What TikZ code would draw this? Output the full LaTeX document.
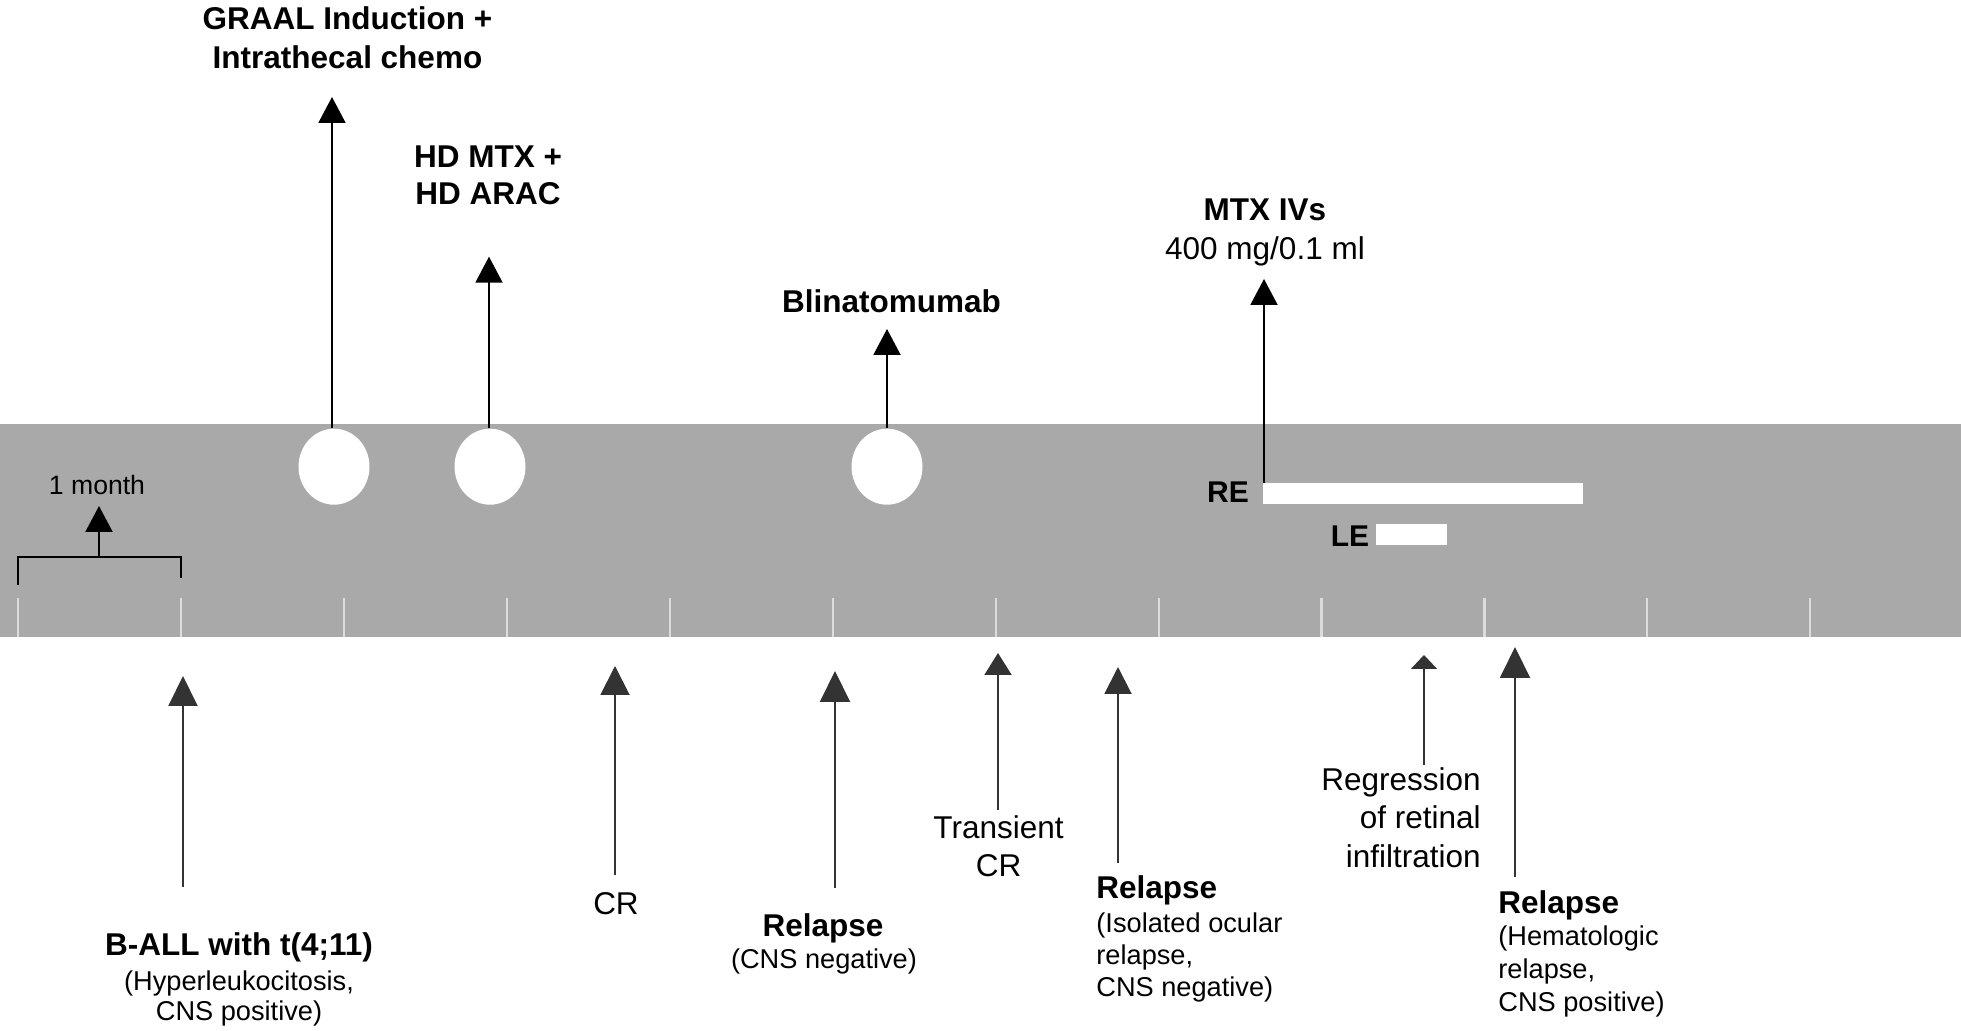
\documentclass[tikz,border=0pt]{standalone}
\usepackage{fontspec}
\setmainfont{Liberation Sans}
\usetikzlibrary{arrows.meta,shapes.geometric}
\definecolor{bandgray}{HTML}{A9A9A9}
\definecolor{tickgray}{HTML}{DCDCDC}
\begin{document}
\begin{tikzpicture}[x=0.5pt,y=-0.5pt,
  hd/.style={font=\bfseries\fontsize{15.75}{19.5}\selectfont, inner sep=0pt, align=center},
  rg/.style={font=\fontsize{15.75}{19.5}\selectfont, inner sep=0pt, align=center},
  sub/.style={font=\fontsize{13.6}{#1}\selectfont, inner sep=0pt, align=center},
  sub/.default=15pt,
  uparr/.style={line width=1pt, draw=black, -{Triangle[length=13pt,width=13.5pt]}},
  botarr/.style 2 args={line width=1pt, draw=black!80, -{Triangle[length=#1,width=#2]}},
  dot/.style={ellipse, fill=white, draw=none, minimum width=35.5pt, minimum height=38pt, inner sep=0pt},
  bar/.style={rectangle, fill=white, draw=none, inner sep=0pt, minimum height=10.5pt, anchor=north west}
]
\useasboundingbox (0,0) rectangle (1961,1031);
% band
\fill[bandgray] (0,424) rectangle (1961,637);
\foreach \i in {0,...,11}
  \draw[tickgray, line width=1.1pt] ({18.3+162.9*\i},598) -- ({18.3+162.9*\i},637);

% one-month bracket
\draw[line width=1.1pt] (18,585) -- (18,557) -- (181,557) -- (181,578);
\coordinate (mb) at (99,557);
\coordinate (mt) at (99,506);
\draw[uparr, line width=1.1pt] (mb) -- (mt);
\node[font=\fontsize{13.3}{16}\selectfont, inner sep=0pt, anchor=base] (month) at (97,495) {1 month};

% circles
\node[dot] (c1) at (334,466.7) {};
\node[dot] (c2) at (490,466.7) {};
\node[dot] (c3) at (887,466.7) {};

% RE / LE bars
\node[bar, minimum width=160pt] (rebar) at (1262.5,483) {};
\node[bar, minimum width=35.5pt] (lebar) at (1376,524) {};
\node[font=\bfseries\fontsize{15}{18}\selectfont, inner sep=0pt, anchor=base] (re) at (1228,502.7) {RE};
\node[font=\bfseries\fontsize{15}{18}\selectfont, inner sep=0pt, anchor=base] (le) at (1350,546.7) {LE};

% top arrows
\coordinate (t1) at (332,97);
\coordinate (t2) at (489,256.7);
\coordinate (t3) at (887,329);
\coordinate (t4) at (1264,279);
\draw[uparr] (c1.north -| t1) -- (t1);
\draw[uparr] (c2.north -| t2) -- (t2);
\draw[uparr] (c3.north -| t3) -- (t3);
\draw[uparr] (rebar.north west -| t4) -- (t4);

% top labels (multi-line nodes: base = last line)
\node[hd, anchor=base] (graal) at (347.5,68.3) {GRAAL Induction +\\Intrathecal chemo};
\node[hd, font=\bfseries\fontsize{15.75}{18.65}\selectfont, anchor=base] (hdmtx) at (488,205) {HD MTX +\\HD ARAC};
\node[hd, anchor=base] (blin) at (891.5,313) {Blinatomumab};
\node[hd, anchor=base] (mtx) at (1265,220.7) {MTX IVs};
\node[rg, anchor=base] (dose) at (1265,259.3) {400 mg/0.1 ml};

% bottom arrows
\coordinate (b1) at (183,887);  \coordinate (u1) at (183,676);
\coordinate (b2) at (615,875);  \coordinate (u2) at (615,666);
\coordinate (b3) at (835,888);  \coordinate (u3) at (835,671);
\coordinate (b4) at (998,810);  \coordinate (u4) at (998,653);
\coordinate (b5) at (1118,863); \coordinate (u5) at (1118,667);
\coordinate (b6) at (1424,765); \coordinate (u6) at (1424,655);
\coordinate (b7) at (1515,877); \coordinate (u7) at (1515,647);
\draw[botarr={15pt}{14.5pt}] (b1) -- (u1);
\draw[botarr={14.5pt}{14.5pt}] (b2) -- (u2);
\draw[botarr={15.5pt}{15pt}] (b3) -- (u3);
\draw[botarr={11pt}{13.5pt}] (b4) -- (u4);
\draw[botarr={13.5pt}{13.5pt}] (b5) -- (u5);
\draw[botarr={7pt}{13pt}] (b6) -- (u6);
\draw[botarr={15.5pt}{15pt}] (b7) -- (u7);

% bottom labels
\node[hd, anchor=base] (ball) at (239,955) {B-ALL with t(4;11)};
\node[sub=15pt, anchor=base] (ballsub) at (239,1020) {(Hyperleukocitosis,\\CNS positive)};
\node[rg, anchor=base] (crl) at (616,914) {CR};
\node[hd, anchor=base] (rel1) at (823,936) {Relapse};
\node[sub, anchor=base] (rel1sub) at (824,968) {(CNS negative)};
\node[rg, anchor=base] (tcr) at (998.5,877) {Transient\\CR};
\node[hd, anchor=base west] (rel2) at (1096,898) {Relapse};
\node[sub=16pt, anchor=base west, align=left] (rel2sub) at (1096,996) {(Isolated ocular\\relapse,\\CNS negative)};
\node[rg, font=\fontsize{15.75}{19.25}\selectfont, anchor=base east, align=right] (regr) at (1481,867) {Regression\\of retinal\\infiltration};
\node[hd, anchor=base west] (rel3) at (1498,913) {Relapse};
\node[sub=16.5pt, anchor=base west, align=left] (rel3sub) at (1498,1011.7) {(Hematologic\\relapse,\\CNS positive)};
\end{tikzpicture}
\end{document}
